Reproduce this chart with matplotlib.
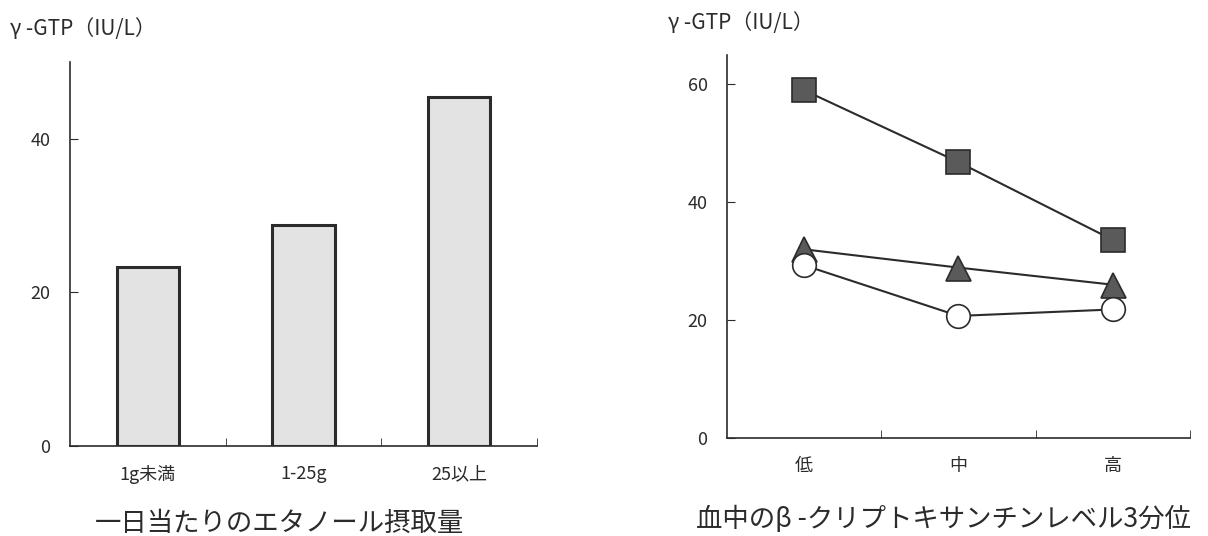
import matplotlib
matplotlib.use('Agg')
import matplotlib.pyplot as plt

plt.rcParams['font.family'] = ['Noto Sans CJK JP', 'DejaVu Sans']

# left: gamma-GTP by daily ethanol intake
intake_labels = ['1g未満', '1-25g', '25以上']
intake_gtp = [23.3, 28.8, 45.4]

# right: gamma-GTP by beta-cryptoxanthin tertile
level_labels = ['低', '中', '高']
gtp_square = [59.0, 46.8, 33.6]
gtp_triangle = [32.0, 28.9, 26.0]
gtp_circle = [29.3, 20.7, 21.8]

ink = '#2b2b2b'

fig = plt.figure(figsize=(12.08, 5.36), dpi=100)
ax1 = fig.add_axes([0.058, 0.168, 0.3866, 0.716])
ax2 = fig.add_axes([0.6018, 0.183, 0.3833, 0.7146])

def style(ax, ymax, yticks):
    for s in ['top', 'right']:
        ax.spines[s].set_visible(False)
    for s in ['left', 'bottom']:
        ax.spines[s].set_color(ink)
        ax.spines[s].set_linewidth(1.2)
    ax.set_xlim(-0.5, 2.5)
    ax.set_ylim(0, ymax)
    ax.set_yticks(yticks)
    ax.set_xticks([0, 1, 2])
    ax.set_xticks([0.5, 1.5, 2.5], minor=True)
    ax.tick_params(axis='y', direction='in', length=6, color=ink, labelsize=13,
                   labelcolor=ink, pad=14)
    ax.tick_params(axis='x', which='major', length=0, labelsize=13,
                   labelcolor=ink, pad=14)
    ax.tick_params(axis='x', which='minor', direction='in', length=6, color=ink)

x = range(len(intake_labels))
ax1.bar(x, intake_gtp, width=0.4, color='#e3e3e3', edgecolor=ink, linewidth=2.2)
style(ax1, 50, [0, 20, 40])
ax1.set_xticklabels(intake_labels)

x2 = range(len(level_labels))
ax2.plot(x2, gtp_square, color=ink, lw=1.5, marker='s', ms=17,
         mfc='#5a5a5a', mec=ink, mew=1.2)
ax2.plot(x2, gtp_triangle, color=ink, lw=1.5, marker='^', ms=18,
         mfc='#5a5a5a', mec=ink, mew=1.2)
ax2.plot(x2, gtp_circle, color=ink, lw=1.5, marker='o', ms=17,
         mfc='white', mec=ink, mew=1.2)
style(ax2, 65, [0, 20, 40, 60])
ax2.set_xticklabels(level_labels)

fig.text(280 / 1208, 1 - 523 / 536, '一日当たりのエタノール摂取量', fontsize=19,
         color=ink, ha='center', va='center')
fig.text(943 / 1208, 1 - 519 / 536, '血中のβ -クリプトキサンチンレベル3分位', fontsize=19,
         color=ink, ha='center', va='center')

fig.text(0.008, 0.945, 'γ -GTP（IU/L）', fontsize=15, color=ink, va='center')
fig.text(0.553, 0.958, 'γ -GTP（IU/L）', fontsize=15, color=ink, va='center')

fig.savefig('out.png', dpi=100)
